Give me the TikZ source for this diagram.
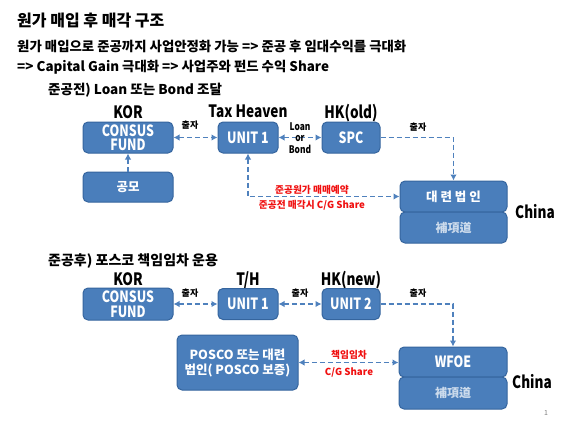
\documentclass[tikz,border=0pt]{standalone}
\usepackage{fontspec}
\setmainfont{Noto Sans CJK KR}
\newfontfamily\kr{Noto Sans CJK KR}
\newfontfamily\kc{Noto Sans CJK KR}[FakeStretch=0.8]
\usetikzlibrary{arrows.meta}
\definecolor{boxblue}{HTML}{4A7EBB}
\definecolor{boxedge}{HTML}{35659E}
\definecolor{arrowblue}{HTML}{4F81BD}
\definecolor{lblred}{HTML}{F01010}
\tikzset{
  box/.style={draw=boxedge, line width=1pt, fill=boxblue, rounded corners=5pt, text=white,
    font=\kc\bfseries\fontsize{15.5}{14.5}\selectfont, align=center, inner sep=0pt},
  hanbox/.style={box, font=\kr\bfseries\fontsize{12.5}{14}\selectfont},
  dimbox/.style={box, text=white!72!boxblue, font=\kr\bfseries\fontsize{12}{14}\selectfont},
  link/.style={arrowblue, line width=1.6pt, dash pattern=on 5pt off 3pt},
  tipend/.style={-{Latex[length=6pt,width=6.5pt]}},
  tipboth/.style={{Latex[length=6pt,width=6.5pt]}-{Latex[length=6pt,width=6.5pt]}},
  head/.style={font=\kc\bfseries\fontsize{17}{17}\selectfont, anchor=base, inner sep=0pt},
  small/.style={font=\kr\bfseries\fontsize{9}{11.5}\selectfont, inner sep=0pt, align=center},
  redlbl/.style={small, text=lblred, font=\kr\bfseries\fontsize{9.7}{11}\selectfont},
  line/.style={font=\kr\bfseries\fontsize{13.4}{15}\selectfont, anchor=base west, inner sep=0pt}
}
\begin{document}
\begin{tikzpicture}[x=1pt,y=-1pt]
\fill[white] (0,0) rectangle (580,421);
\useasboundingbox (0,0) rectangle (580,421);

% texts
\node[line, font=\kr\bfseries\fontsize{16}{17}\selectfont] (title) at (17,26) {원가 매입 후 매각 구조};
\node[line] (l2) at (17,51) {원가 매입으로 준공까지 사업안정화 가능 => 준공 후 임대수익를 극대화};
\node[line] (l3) at (17,71) {=> Capital Gain 극대화 => 사업주와 펀드 수익 Share};
\node[line, font=\kr\bfseries\fontsize{13.5}{15}\selectfont] (l4) at (48,94) {준공전) Loan 또는 Bond 조달};
\node[line, font=\kr\bfseries\fontsize{14}{15}\selectfont] (l5) at (48,265) {준공후) 포스코 책임임차 운용};

% row 1
\node[head] (kor1) at (128,118) {KOR};
\node[head] (tax) at (248,117) {Tax Heaven};
\node[head] (hkold) at (351,118) {HK(old)};
\node[box, minimum width=90pt, minimum height=31pt] (fund1) at (128,137.5) {CONSUS\\FUND};
\node[box, minimum width=60pt, minimum height=31pt] (unit1) at (248,137.5) {UNIT 1};
\node[box, minimum width=58pt, minimum height=31pt] (spc) at (351,137.5) {SPC};
\node[hanbox, minimum width=90pt, minimum height=30pt] (gongmo) at (128,187) {공모};
\node[hanbox, minimum width=107pt, minimum height=31pt] (dalian) at (453.5,196.5) {대 련 법 인};
\node[dimbox, minimum width=107pt, minimum height=31pt] (bu1) at (453.5,227.5) {補項道};
\node[head] (china1) at (535,218) {China};

\draw[link, tipend] (gongmo) -- (fund1);
\draw[link, tipboth] (fund1) -- (unit1);
\draw[link, tipboth] (unit1) -- (spc);
\draw[link, tipend] (spc.east) -| (dalian.north);
\draw[link, tipboth] (unit1.south) |- (dalian.west);
\node[small] (cz1) at (190,125) {출자};
\node[small, font=\kc\bfseries\fontsize{10.5}{11.3}\selectfont] (lob) at (300,138) {Loan\\or\\Bond};
\node[small] (cz2) at (418,127) {출자};
\node[redlbl] (r1) at (312,189.5) {준공원가 매매예약};
\node[redlbl] (r2) at (312,205) {준공전 매각시 C/G Share};

% row 2
\node[head] (kor2) at (128,285) {KOR};
\node[head] (th) at (248,285) {T/H};
\node[head] (hknew) at (351,285) {HK(new)};
\node[box, minimum width=90pt, minimum height=32pt] (fund2) at (128,304) {CONSUS\\FUND};
\node[box, minimum width=60pt, minimum height=31pt] (unit1b) at (248,304) {UNIT 1};
\node[box, minimum width=58pt, minimum height=31pt] (unit2) at (351,304) {UNIT 2};
\node[box, minimum width=121pt, minimum height=55pt, font=\kr\bfseries\fontsize{12.5}{15}\selectfont] (posco) at (237.5,362.5) {POSCO 또는 대련\\법인( POSCO 보증)};
\node[box, minimum width=108pt, minimum height=30pt] (wfoe) at (453,362) {WFOE};
\node[dimbox, minimum width=108pt, minimum height=32pt] (bu2) at (453,393) {補項道};
\node[head] (china2) at (532,388) {China};

\draw[link, tipboth] (fund2) -- (unit1b);
\draw[link, tipboth] (unit1b) -- (unit2);
\draw[link, tipend] (unit2.east) -| (wfoe.north);
\draw[link, tipboth] (posco.east) -- (posco.east -| wfoe.west);
\node[small] (cz3) at (190,293) {출자};
\node[small] (cz4) at (300,293) {출자};
\node[small] (cz5) at (418,293) {출자};
\node[redlbl] (r3) at (349,355) {책임임차};
\node[redlbl] (r4) at (349,372) {C/G Share};

\node[font=\kr\fontsize{7}{8}\selectfont, text=gray, inner sep=0pt] (pg) at (546,413) {1};
\end{tikzpicture}
\end{document}
